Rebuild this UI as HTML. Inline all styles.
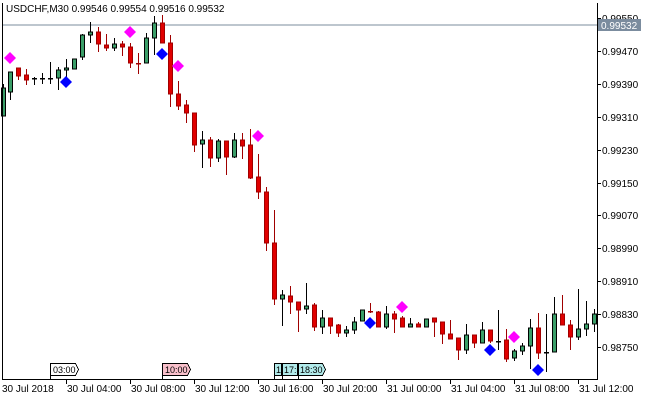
<!DOCTYPE html>
<html><head><meta charset="utf-8"><style>
body{margin:0;background:#fff;width:650px;height:400px;overflow:hidden}
svg{display:block;font-family:"Liberation Sans",sans-serif}
</style></head><body>
<svg id="c" width="650" height="400" xmlns="http://www.w3.org/2000/svg">
<rect width="650" height="400" fill="#fff"/>
<line x1="2" y1="25" x2="597" y2="25" stroke="#7b8c9e" stroke-width="1"/>
<g id="cs"></g>
<g stroke="#000" stroke-width="1" shape-rendering="crispEdges">
<line x1="2.5" y1="3" x2="2.5" y2="379"/>
<line x1="597.5" y1="3" x2="597.5" y2="379"/>
<line x1="2" y1="379.5" x2="598" y2="379.5"/>
</g>
<g id="ax" font-size="10" fill="#000"></g>
<rect x="598" y="19" width="43" height="12" fill="#7b8c9e"/>
<text x="601" y="29" font-size="10" fill="#fff">0.99532</text>
<text x="6" y="12" font-size="10" fill="#000">USDCHF,M30  0.99546 0.99554 0.99516 0.99532</text>
<g font-size="9" stroke-width="1" shape-rendering="crispEdges">
<path d="M50.5,379V363.5H75.5L78.5,369.5L75.5,375.5H50.5" fill="#fff" stroke="#000"/>
<text x="53" y="373" fill="#000" stroke="none">03:00</text>
<path d="M162.5,379V363.5H187.5L190.5,369.5L187.5,375.5H162.5" fill="#f9c0cb" stroke="#000"/>
<text x="165" y="373" fill="#000" stroke="none">10:00</text>
<path d="M274.5,379V363.5H281.5V375.5H274.5" fill="#b2ebeb" stroke="#000"/>
<text x="276" y="373" fill="#000" stroke="none">1</text>
<path d="M282.5,379V363.5H297.5V375.5H282.5" fill="#b2ebeb" stroke="#000"/>
<text x="284" y="373" fill="#000" stroke="none">17:</text>
<path d="M298.5,379V363.5H322.5L325.5,369.5L322.5,375.5H298.5" fill="#b2ebeb" stroke="#000"/>
<text x="300" y="373" fill="#000" stroke="none">18:30</text>
</g>
</svg>
<script>
var C=[[3,88,116,84,116,'g'],[10,72,92,72,100,'g'],[18,68,76,68,80,'r'],[26,75,80,69,85,'r'],[34,78,79,77,85,'d'],[42,78,78,73,84,'d'],[50,78,78,62,84,'d'],[58,70,78,67,90,'g'],[66,68,70,59,80,'g'],[74,59,69,59,69,'g'],[82,35,57,34,60,'g'],[90,32,35,22,43,'g'],[98,32,44,27,52,'r'],[106,45,48,34,51,'r'],[114,44,48,38,51,'g'],[122,44,47,41,56,'r'],[130,47,63,43,68,'r'],[138,63,63,53,74,'rd'],[146,38,63,33,63,'g'],[154,23,38,16,55,'g'],[162,23,43,15,43,'r'],[170,43,94,35,107,'r'],[178,94,106,81,110,'r'],[186,105,113,100,123,'r'],[194,113,145,113,152,'r'],[202,140,144,131,168,'g'],[210,140,158,137,167,'r'],[218,141,158,139,162,'g'],[226,141,157,141,175,'r'],[234,140,157,133,158,'g'],[242,140,146,133,159,'r'],[250,145,178,129,179,'r'],[258,177,192,154,199,'r'],[266,192,243,187,251,'r'],[274,243,299,210,305,'r'],[282,295,299,290,326,'g'],[290,296,302,286,314,'r'],[298,302,310,302,332,'r'],[306,306,309,283,314,'g'],[314,305,327,303,331,'r'],[322,318,327,310,334,'g'],[330,318,326,318,334,'r'],[338,325,333,324,337,'r'],[346,330,333,326,337,'g'],[354,322,330,317,334,'g'],[362,310,321,310,321,'g'],[370,311,311,303,313,'rd'],[378,312,327,311,327,'r'],[386,314,327,306,329,'g'],[394,314,319,311,333,'r'],[402,318,327,316,327,'r'],[410,324,327,318,327,'g'],[418,324,327,322,327,'r'],[426,319,327,319,327,'g'],[434,318,322,318,337,'r'],[442,322,334,322,344,'r'],[450,334,339,320,339,'r'],[458,338,350,338,360,'r'],[466,335,350,324,354,'g'],[474,335,343,335,348,'r'],[482,330,343,322,343,'g'],[490,330,341,330,343,'r'],[498,341,341,310,350,'d'],[506,340,359,329,362,'r'],[514,351,358,349,361,'g'],[522,346,351,343,355,'g'],[530,328,346,319,369,'g'],[538,328,353,313,359,'r'],[546,352,352,314,372,'d'],[554,314,352,297,352,'g'],[562,314,325,295,325,'r'],[570,325,337,320,350,'r'],[578,329,337,289,340,'g'],[586,324,329,301,336,'g'],[594,314,324,309,332,'g']];
var s='';
C.forEach(function(c){var x=c[0],t=c[1],b=c[2],h=c[3],l=c[4],k=c[5];
var red=k[0]=='r';var w=red?'#a00000':'#000';
s+='<line x1="'+(x+.5)+'" y1="'+h+'" x2="'+(x+.5)+'" y2="'+l+'" stroke="'+w+'" stroke-width="1"/>';
if(k=='d'||k=='rd'||b-t<1){s+='<rect x="'+(x-2)+'" y="'+t+'" width="5" height="1.5" fill="'+w+'"/>';}
else s+='<rect x="'+(x-1.5)+'" y="'+t+'" width="4" height="'+(b-t)+'" fill="'+(red?'#e00000':'#3a9e68')+'" stroke="'+(red?'#a00000':'#000')+'" stroke-width="1"/>';});
function dm(x,y,f){s+='<path d="M'+x+','+(y-6)+'L'+(x+6)+','+y+'L'+x+','+(y+6)+'L'+(x-6)+','+y+'Z" fill="'+f+'"/>';}
[[10,58],[130,32],[178,66],[258,136],[402,307],[514,337]].forEach(function(p){dm(p[0],p[1],'#ff00ff')});
[[66,82],[162,54],[370,323],[490,350],[538,370]].forEach(function(p){dm(p[0],p[1],'#0000ff')});
document.getElementById('cs').innerHTML=s;
var a='';var P=['0.99550','0.99470','0.99390','0.99310','0.99230','0.99150','0.99070','0.98990','0.98910','0.98830','0.98750'];
P.forEach(function(p,i){var y=Math.round(18+i*32.9);a+='<line x1="597" y1="'+(y+.5)+'" x2="601" y2="'+(y+.5)+'" stroke="#000"/><text x="602" y="'+(y+4)+'">'+p+'</text>';});
var T=['30 Jul 2018','30 Jul 04:00','30 Jul 08:00','30 Jul 12:00','30 Jul 16:00','30 Jul 20:00','31 Jul 00:00','31 Jul 04:00','31 Jul 08:00','31 Jul 12:00'];
T.forEach(function(t,i){var x=2+i*64;if(i>0)a+='<line x1="'+(x+.5)+'" y1="379" x2="'+(x+.5)+'" y2="384" stroke="#000"/>';a+='<text x="'+(i==0?2:x+1)+'" y="392">'+t+'</text>';});
document.getElementById('ax').innerHTML=a;
</script>
</body></html>
